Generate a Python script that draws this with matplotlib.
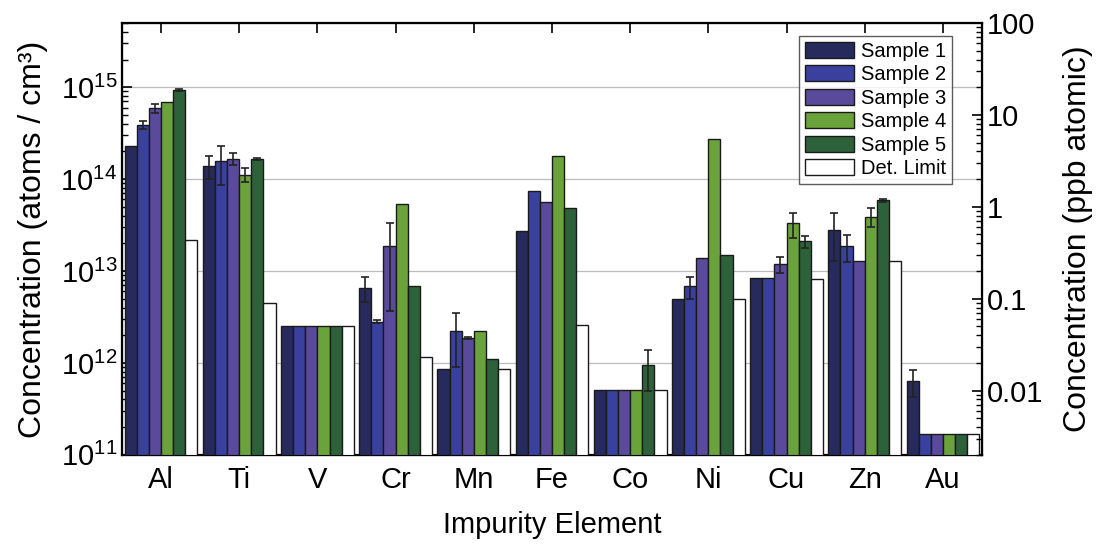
import matplotlib
matplotlib.use("Agg")
import matplotlib.pyplot as plt
import numpy as np
from matplotlib.ticker import LogLocator, NullFormatter, FixedLocator, FixedFormatter

plt.rcParams['font.family'] = ['Liberation Sans', 'DejaVu Sans']
plt.rcParams['mathtext.default'] = 'regular'

elements = ["Al", "Ti", "V", "Cr", "Mn", "Fe", "Co", "Ni", "Cu", "Zn", "Au"]
series = ["Sample 1", "Sample 2", "Sample 3", "Sample 4", "Sample 5", "Det. Limit"]

# concentrations in atoms/cm^3
sample1 = [2.3e14, 1.4e14, 2.55e12, 6.6e12, 8.6e11, 2.75e13, 5.1e11, 5.0e12, 8.3e12, 2.8e13, 6.3e11]
sample2 = [3.9e14, 1.58e14, 2.55e12, 2.8e12, 2.2e12, 7.4e13, 5.1e11, 6.8e12, 8.3e12, 1.86e13, 1.7e11]
sample3 = [5.9e14, 1.66e14, 2.55e12, 1.87e13, 1.86e12, 5.6e13, 5.1e11, 1.38e13, 1.19e13, 1.3e13, 1.7e11]
sample4 = [6.9e14, 1.12e14, 2.55e12, 5.3e13, 2.23e12, 1.78e14, 5.1e11, 2.7e14, 3.3e13, 3.9e13, 1.7e11]
sample5 = [9.3e14, 1.66e14, 2.55e12, 6.9e12, 1.1e12, 4.9e13, 9.4e11, 1.49e13, 2.1e13, 5.9e13, 1.7e11]
det_limit = [2.2e13, 4.5e12, 2.55e12, 1.16e12, 8.6e11, 2.6e12, 5.1e11, 5.0e12, 8.2e12, 1.3e13, 1.7e11]

# error bars (0 = none drawn)
err1 = [0, 0.4e14, 0, 2.0e12, 0, 0, 0, 0, 0, 1.5e13, 2.0e11]
err2 = [0.35e14, 0.72e14, 0, 0.1e12, 1.3e12, 0, 0, 1.9e12, 0, 0.6e13, 0]
err3 = [0.7e14, 0.25e14, 0, 1.5e13, 0.05e12, 0, 0, 0, 0.24e13, 0, 0]
err4 = [0, 0.2e14, 0, 0, 0, 0, 0, 0, 1.0e13, 0.9e13, 0]
err5 = [0.2e14, 0.05e14, 0, 0, 0, 0, 0.45e12, 0, 0.3e13, 0.2e13, 0]

values = [sample1, sample2, sample3, sample4, sample5, det_limit]
errors = [err1, err2, err3, err4, err5, None]
colors = ["#272a5c", "#3a409e", "#5a4a9c", "#6aa33c", "#2d6139", "#ffffff"]

fig = plt.figure(figsize=(10.99, 5.46), dpi=100)
ax = fig.add_axes([0.111, 0.167, 0.7825, 0.791])

x = np.arange(len(elements))
w = 0.155
for i, (vals, col) in enumerate(zip(values, colors)):
    pos = x - 2.5 * w + i * w
    ax.bar(pos, vals, width=w, color=col, edgecolor="#1a1a1a", linewidth=1.0, zorder=3,
           label=series[i])
    if errors[i] is not None:
        e = np.array(errors[i])
        m = e > 0
        ax.errorbar(pos[m], np.array(vals)[m], yerr=e[m], fmt="none", ecolor="#222222",
                    elinewidth=1.2, capsize=3, capthick=1.2, zorder=4)

ax.set_yscale("log")
ax.set_ylim(1e11, 5e15)
ax.set_xlim(-0.5, 10.5)
ax.set_xticks(x)
ax.set_xticklabels(elements, fontsize=21)
ax.yaxis.set_major_locator(FixedLocator([1e11, 1e12, 1e13, 1e14, 1e15]))
ax.yaxis.set_major_formatter(FixedFormatter([r"$10^{11}$", r"$10^{12}$", r"$10^{13}$",
                                             r"$10^{14}$", r"$10^{15}$"]))
ax.yaxis.set_minor_locator(LogLocator(base=10, subs=np.arange(2, 10), numticks=20))
ax.yaxis.set_minor_formatter(NullFormatter())
ax.tick_params(axis="y", which="major", direction="in", length=7, width=1.2, labelsize=21)
ax.tick_params(axis="y", which="minor", direction="in", length=4, width=1)
ax.tick_params(axis="x", which="major", direction="in", length=7, width=1.2, top=True, pad=8)
ax.set_xlabel("Impurity Element", fontsize=21, labelpad=12)
ax.set_ylabel("Concentration (atoms / cm³)", fontsize=23, labelpad=9)

for yv in [1e12, 1e13, 1e14, 1e15]:
    ax.axhline(yv, color="#bdbdbd", linewidth=0.9, zorder=1)

for s in ax.spines.values():
    s.set_linewidth(1.6)

# ppb atomic scale on the right (Si: 5e22 atoms/cm^3)
ax2 = ax.twinx()
ax2.set_yscale("log")
ax2.set_ylim(1e11 / 5e13, 5e15 / 5e13)
ax2.yaxis.set_major_locator(FixedLocator([0.01, 0.1, 1, 10, 100]))
ax2.yaxis.set_major_formatter(FixedFormatter(["0.01", "0.1", "1", "10", "100"]))
ax2.yaxis.set_minor_locator(LogLocator(base=10, subs=np.arange(2, 10), numticks=20))
ax2.yaxis.set_minor_formatter(NullFormatter())
ax2.tick_params(axis="y", which="major", direction="in", length=7, width=1.2, labelsize=21)
ax2.tick_params(axis="y", which="minor", direction="in", length=4, width=1)
ax2.set_ylabel("Concentration (ppb atomic)", fontsize=23, labelpad=14)

leg = ax.legend(loc="upper right", bbox_to_anchor=(0.965, 0.970), fontsize=14.5,
                frameon=True, fancybox=False, edgecolor="#333333", handlelength=2.4,
                handleheight=0.85, labelspacing=0.22, handletextpad=0.35, borderpad=0.3,
                borderaxespad=0.0)
leg.get_frame().set_linewidth(1.0)
leg.set_zorder(10)

fig.savefig("out.png", dpi=100)
